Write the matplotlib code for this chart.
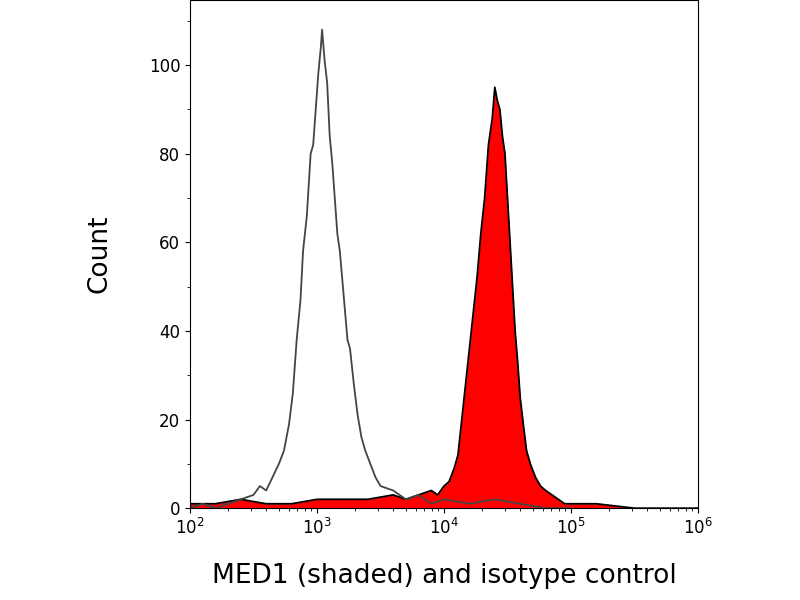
import numpy as np
import matplotlib
matplotlib.use("Agg")
from matplotlib import pyplot as plt

# log10 of fluorescence intensity and counts
iso_logx = [2.0, 2.1, 2.2, 2.3, 2.4, 2.5, 2.55, 2.6, 2.65, 2.7, 2.74, 2.78, 2.81, 2.84, 2.87, 2.89,
            2.92, 2.95, 2.97, 2.99, 3.01, 3.03, 3.04, 3.06, 3.08, 3.10, 3.12, 3.14, 3.16, 3.18,
            3.21, 3.24, 3.26, 3.29, 3.32, 3.35, 3.38, 3.42, 3.46, 3.5, 3.6, 3.7, 3.8, 3.9, 4.0,
            4.2, 4.4, 4.6, 4.8, 5.0]
iso_count = [0, 1, 0, 1, 2, 3, 5, 4, 7, 10, 13, 19, 26, 38, 47, 58,
             66, 80, 82, 90, 98, 104, 108, 101, 96, 84, 78, 70, 62, 58,
             48, 38, 36, 28, 21, 16, 13, 10, 7, 5, 4, 2, 3, 1, 2,
             1, 2, 1, 0, 0]

med_logx = [2.0, 2.2, 2.4, 2.6, 2.8, 3.0, 3.2, 3.4, 3.6, 3.7, 3.8, 3.9, 3.95, 4.0, 4.04, 4.08,
            4.11, 4.14, 4.17, 4.2, 4.23, 4.26, 4.29, 4.32, 4.35, 4.38, 4.40, 4.42, 4.44, 4.46,
            4.48, 4.50, 4.52, 4.54, 4.56, 4.58, 4.60, 4.62, 4.65, 4.68, 4.72, 4.76, 4.8, 4.85,
            4.9, 4.95, 5.0, 5.2, 5.5, 6.0]
med_count = [1, 1, 2, 1, 1, 2, 2, 2, 3, 2, 3, 4, 3, 5, 6, 9,
             12, 20, 28, 36, 44, 52, 62, 70, 82, 88, 95, 92, 90, 84,
             80, 70, 60, 50, 40, 33, 25, 20, 13, 10, 7, 5, 4, 3,
             2, 1, 1, 1, 0, 0]

iso_x = 10 ** np.array(iso_logx)
med_x = 10 ** np.array(med_logx)

fig, ax = plt.subplots(figsize=(8, 6), dpi=100)
fig.subplots_adjust(left=0.2375, right=0.8725, top=1.0, bottom=0.153)

ax.fill_between(med_x, med_count, color="#ff0000", linewidth=0)
ax.plot(med_x, med_count, color="black", linewidth=1.3)
ax.plot(iso_x, iso_count, color="#444444", linewidth=1.3)

ax.set_xscale("log")
ax.set_xlim(1e2, 1e6)
ax.set_ylim(0, 114.7)
ax.set_yticks([0, 20, 40, 60, 80, 100])
ax.set_yticks(np.arange(0, 111, 10), minor=True)
ax.tick_params(labelsize=12, direction="out")
ax.set_xlabel("MED1 (shaded) and isotype control", fontsize=19, labelpad=18)
ax.set_ylabel("Count", fontsize=19, labelpad=26)

fig.savefig("out.png")
